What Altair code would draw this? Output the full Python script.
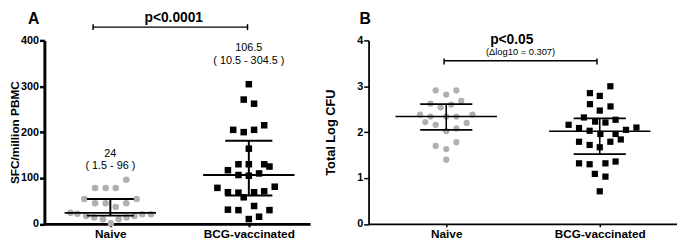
import altair as alt
import pandas as pd

FONT = "Liberation Sans"

groups = ["Naive", "BCG-vaccinated"]
group_pos = [1, 2]

# ---------------- Panel A data (SFC/million PBMC) ----------------
a_naive_vals = [96, 78, 78, 78, 54, 54, 45, 45, 45, 37,
                24, 22, 17, 14, 10, 1.5, 10, 14, 17, 21, 21]
a_naive_off = [0.115, -0.11, -0.034, 0.039, -0.188, 0.19, -0.11, -0.034, 0.115, 0.039,
               -0.287, -0.238, -0.174, -0.117, -0.053, 0.004, 0.06, 0.117, 0.174, 0.23, 0.294]
a_bcg_vals = [304.5, 271, 262, 205, 200, 205, 215, 164, 130, 130, 130, 125,
              117, 106.5, 105, 110, 78.5, 69, 68, 58, 69, 71, 81, 31, 30, 39, 30, 10.5, 15.6]
a_bcg_off = [0, -0.037, 0.038, -0.113, -0.037, 0.038, 0.111, 0, -0.075, 0, 0.111, 0.149,
             -0.151, -0.075, 0, 0.074, -0.227, -0.151, -0.075, -0.037, 0.038, 0.111, 0.187,
             -0.151, -0.075, 0.038, 0.149, 0, 0.074]
a_median = [24, 106.5]
a_q1 = [18, 62]
a_q3 = [54, 181]
a_label_median = ["24", "106.5"]
a_label_range = ["( 1.5 - 96 )", "( 10.5 - 304.5 )"]
a_pvalue = "p<0.0001"

# ---------------- Panel B data (Total Log CFU) ----------------
b_naive_vals = [2.91, 2.91, 2.82, 2.68, 2.62, 2.60, 2.54, 2.38, 2.38, 2.34, 2.34, 2.34,
                2.22, 2.20, 2.16, 2.02, 2.08, 1.70, 1.78, 1.63, 1.40]
b_naive_off = [-0.069, 0.066, 0, 0.098, -0.103, 0.032, -0.037, -0.171, 0.171, -0.103, 0, 0.066,
               -0.137, 0.133, -0.069, 0, 0.066, -0.069, 0.066, 0, 0]
b_bcg_vals = [3.0, 2.85, 2.79, 2.61, 2.56, 2.47, 2.32, 2.23, 2.21, 2.27, 2.16, 2.09, 2.03,
              1.96, 1.96, 2.05, 2.10, 1.79, 1.72, 1.67, 1.79, 1.84, 1.32, 1.30, 1.32, 1.36,
              1.09, 1.03, 0.71]
b_bcg_off = [0.069, -0.064, 0, -0.064, 0.07, 0, -0.103, -0.03, 0.037, 0.103, -0.203, -0.135,
             -0.066, 0.004, 0.103, 0.171, 0.239, -0.135, -0.066, 0, 0.069, 0.137, -0.135,
             -0.066, 0.037, 0.103, -0.032, 0.037, 0]
b_median = [2.34, 2.02]
b_q1 = [2.05, 1.52]
b_q3 = [2.61, 2.30]
b_pvalue = "p<0.05"
b_delta = "(\u0394log10 = 0.307)"

label_expr = "datum.value == 1 ? '%s' : '%s'" % (groups[0], groups[1])


def points_frame(v1, o1, v2, o2):
    rows = []
    for v, o in zip(v1, o1):
        rows.append({"y": v, "off": o, "pos": group_pos[0], "group": groups[0]})
    for v, o in zip(v2, o2):
        rows.append({"y": v, "off": o, "pos": group_pos[1], "group": groups[1]})
    return pd.DataFrame(rows)


def summary_frame(med, q1, q3):
    return pd.DataFrame({"pos": group_pos, "median": med, "q1": q1, "q3": q3})


class Panel:
    def __init__(self, xs, ys, xaxis, yaxis):
        self.xs, self.ys, self.xaxis, self.yaxis = xs, ys, xaxis, yaxis

    def X(self, f):
        return alt.X(f, scale=self.xs, axis=self.xaxis)

    def Y(self, f):
        return alt.Y(f, scale=self.ys, axis=self.yaxis)


def panel(P, pts, summ, size, lw, annotations):
    base_pts = alt.Chart(pts).transform_calculate(x="datum.pos + datum.off").mark_point(
        filled=True, opacity=1, strokeWidth=0, size=size
    ).encode(
        x=P.X("x:Q"),
        y=P.Y("y:Q"),
        shape=alt.Shape("group:N", scale=alt.Scale(domain=groups, range=["circle", "square"]), legend=None),
        color=alt.Color("group:N", scale=alt.Scale(domain=groups, range=["#b0b0b0", "#000000"]), legend=None),
    )
    sb = alt.Chart(summ)
    med = sb.transform_calculate(xa="datum.pos - 0.33", xb="datum.pos + 0.33").mark_rule(
        color="black", strokeWidth=lw).encode(x=P.X("xa:Q"), x2="xb:Q", y=P.Y("median:Q"))
    up = sb.transform_calculate(xa="datum.pos - 0.17", xb="datum.pos + 0.17").mark_rule(
        color="black", strokeWidth=lw).encode(x=P.X("xa:Q"), x2="xb:Q", y=P.Y("q3:Q"))
    lo = sb.transform_calculate(xa="datum.pos - 0.17", xb="datum.pos + 0.17").mark_rule(
        color="black", strokeWidth=lw).encode(x=P.X("xa:Q"), x2="xb:Q", y=P.Y("q1:Q"))
    vert = sb.mark_rule(color="black", strokeWidth=lw).encode(
        x=P.X("pos:Q"), y=P.Y("q1:Q"), y2="q3:Q")
    layers = [base_pts, med, up, lo, vert] + annotations(P)
    return alt.layer(*layers)


def text_layer(P, df, size, weight, baseline):
    return alt.Chart(df).mark_text(
        font=FONT, fontSize=size, fontWeight=weight, baseline=baseline, align="center",
        color="black", fill="black"
    ).encode(x=P.X("x:Q"), y=P.Y("y:Q"), text="t:N")


def bracket_layers(P, x1, x2, y, ycap1, ycap2, lw):
    h = alt.Chart(pd.DataFrame({"x": [x1], "x2": [x2], "y": [y]})).mark_rule(
        color="black", strokeWidth=lw).encode(x=P.X("x:Q"), x2="x2:Q", y=P.Y("y:Q"))
    caps = alt.Chart(pd.DataFrame({"x": [x1, x2], "y": [ycap1, ycap1], "y2": [ycap2, ycap2]})).mark_rule(
        color="black", strokeWidth=lw).encode(x=P.X("x:Q"), y=P.Y("y:Q"), y2="y2:Q")
    return [h, caps]


# ---------------- Panel A ----------------
PA = Panel(
    alt.Scale(domain=[0.524, 2.442], nice=False, zero=False),
    alt.Scale(domain=[0, 400], nice=False),
    alt.Axis(values=group_pos, labelExpr=label_expr, title=None, grid=False,
             tickSize=3, tickWidth=2, tickColor="black", domainColor="black", domainWidth=3,
             labelFont=FONT, labelFontSize=12, labelFontWeight="bold", labelColor="black",
             labelPadding=2),
    alt.Axis(values=[0, 100, 200, 300, 400], title="SFC/million PBMC", grid=False,
             tickSize=5, tickWidth=2.5, tickColor="black", domainColor="black", domainWidth=3,
             labelFont=FONT, labelFontSize=11, labelFontWeight="bold", labelColor="black",
             labelPadding=1, titleFont=FONT, titleFontSize=12, titleFontWeight="bold",
             titleColor="black", titlePadding=-1),
)


def annotA(P):
    t_med = pd.DataFrame({"x": [1.0, 2.0], "y": [144.8, 377.5], "t": a_label_median})
    t_rng = pd.DataFrame({"x": [1.0, 2.0], "y": [120.1, 348.5], "t": a_label_range})
    t_p = pd.DataFrame({"x": [1.458], "y": [463.3], "t": [a_pvalue]})
    t_A = pd.DataFrame({"x": [0.446], "y": [463.3], "t": ["A"]})
    return ([text_layer(P, t_med, 11, "normal", "alphabetic"),
             text_layer(P, t_rng, 11, "normal", "alphabetic"),
             text_layer(P, t_p, 14, "bold", "top"),
             text_layer(P, t_A, 16, "bold", "top")]
            + bracket_layers(P, 0.8756, 1.9906, 428.95, 435.4, 422.5, 1.5))


chartA = panel(PA, points_frame(a_naive_vals, a_naive_off, a_bcg_vals, a_bcg_off),
               summary_frame(a_median, a_q1, a_q3), 44, 2, annotA
               ).properties(width=270, height=186.5)

# ---------------- Panel B ----------------
PB = Panel(
    alt.Scale(domain=[0.494, 2.5], nice=False, zero=False),
    alt.Scale(domain=[0, 4], nice=False),
    alt.Axis(values=group_pos, labelExpr=label_expr, title=None, grid=False,
             tickSize=3, tickWidth=1.5, tickColor="black", domainColor="black", domainWidth=1.8,
             labelFont=FONT, labelFontSize=12, labelFontWeight="bold", labelColor="black",
             labelPadding=2),
    alt.Axis(values=[0, 1, 2, 3, 4], title="Total Log CFU", grid=False,
             tickSize=5, tickWidth=1.5, tickColor="black", domainColor="black", domainWidth=1.8,
             labelFont=FONT, labelFontSize=11, labelFontWeight="bold", labelColor="black",
             labelPadding=1, titleFont=FONT, titleFontSize=13, titleFontWeight="bold",
             titleColor="black", titlePadding=20),
)


def annotB(P):
    t_p = pd.DataFrame({"x": [1.427], "y": [3.914], "t": [b_pvalue]})
    t_d = pd.DataFrame({"x": [1.484], "y": [3.678], "t": [b_delta]})
    t_B = pd.DataFrame({"x": [0.472], "y": [4.633], "t": ["B"]})
    return ([text_layer(P, t_p, 14, "bold", "alphabetic"),
             text_layer(P, t_d, 9.5, "normal", "alphabetic"),
             text_layer(P, t_B, 16, "bold", "top")]
            + bracket_layers(P, 0.986, 1.982, 3.554, 3.603, 3.475, 1.5))


chartB = panel(PB, points_frame(b_naive_vals, b_naive_off, b_bcg_vals, b_bcg_off),
               summary_frame(b_median, b_q1, b_q3), 40, 1.6, annotB
               ).properties(width=313, height=186.5)

chart = alt.hconcat(chartA, chartB, spacing=12.5).properties(padding=0).configure(
    font=FONT, view=alt.ViewConfig(stroke="transparent"))

chart.save("out.html", embed_options={"renderer": "svg", "actions": False})
